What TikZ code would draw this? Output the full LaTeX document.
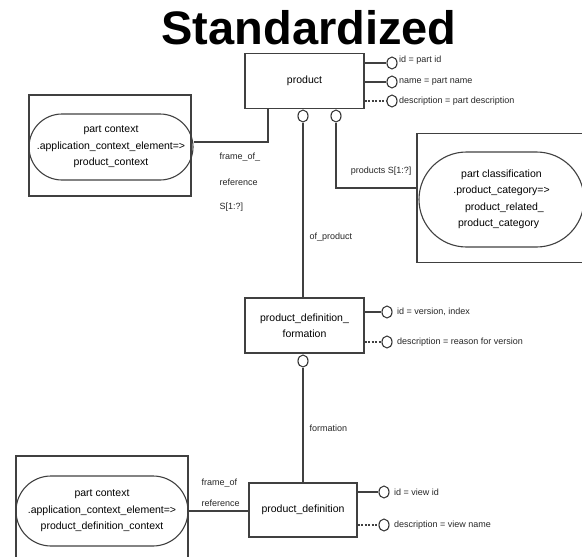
\documentclass[tikz,border=0pt]{standalone}
\usepackage{fontspec}
\setmainfont{Liberation Sans}
\usetikzlibrary{shapes,positioning}
\tikzset{ent/.style={rectangle,draw=black!75,line width=1.1pt,minimum width=119pt,minimum height=55pt,align=center,font=\fontsize{10.5}{16}\selectfont}}
\tikzset{sel/.style={rounded rectangle,draw=black!75,line width=1.1pt,align=center,inner sep=0pt,font=\fontsize{10.5}{16.5}\selectfont}}
\tikzset{frm/.style={rectangle,draw=black!75,line width=1.1pt,inner sep=0pt}}
\tikzset{att/.style={ellipse,draw=black!80,line width=1.1pt,minimum width=10pt,minimum height=12pt,inner sep=0pt}}
\tikzset{lbl/.style={font=\fontsize{9}{10}\selectfont,text=black!85,inner sep=1pt}}

\begin{document}
\begin{tikzpicture}[x=1pt,y=-1pt,line width=1.1pt,draw=black!75]
        \useasboundingbox (0,0) rectangle (582,557);
        \clip (0,0) rectangle (582,557);

        \node[font=\fontsize{47}{50}\bfseries] (title) at (309,28) {Standardized};

        % entities
        \node[ent] (product) at (304.5,81) {product};
        \node[ent] (pdf) at (304.5,325.5) {product\_definition\_\\formation};
        \node[ent,minimum width=108pt,minimum height=54pt] (pd) at (303,510) {product\_definition};

        % select types with frames
        \node[frm,minimum width=162pt,minimum height=101pt] (fr1) at (110,145.5) {};
        \node[sel,minimum width=164pt,minimum height=66pt] (ctx1) at (111,147) {part context\\.application\_context\_element=>\\product\_context};
        \node[frm,minimum width=170pt,minimum height=129pt] (fr2) at (502,198) {};
        \node[sel,minimum width=165pt,minimum height=95pt] (cls) at (501.5,199.5) {part classification\\.product\_category=>\\\ \ product\_related\_\\product\_category\ \ \ };
        \node[frm,minimum width=172pt,minimum height=120pt] (fr3) at (102,516) {};
        \node[sel,minimum width=172pt,minimum height=70pt] (ctx2) at (102,511) {part context\\.application\_context\_element=>\\product\_definition\_context};

        % attributes of product
        \node[att] (a1) at (392,63) {};
        \node[att] (a2) at (392,82) {};
        \node[att] (a3) at (392,101) {};
        \node[lbl,anchor=west,yshift=3pt] at (a1.east) {id = part id};
        \node[lbl,anchor=west] at (a2.east) {name = part name};
        \node[lbl,anchor=west] at (a3.east) {description = part description};
        \draw (product.east |- a1) -- (a1);
        \draw (product.east |- a2) -- (a2);
        \draw[dashed,dash pattern=on 2pt off 1.5pt] (product.east |- a3) -- (a3);

        % attributes of product_definition_formation
        \node[att] (v1) at (387,312) {};
        \node[att] (v2) at (387,342) {};
        \node[lbl,anchor=west,xshift=3pt] at (v1.east) {id = version, index};
        \node[lbl,anchor=west,xshift=3pt] at (v2.east) {description = reason for version};
        \draw (pdf.east |- v1) -- (v1);
        \draw[dashed,dash pattern=on 2pt off 1.5pt] (pdf.east |- v2) -- (v2);

        % attributes of product_definition
        \node[att] (w1) at (384,492) {};
        \node[att] (w2) at (384,525) {};
        \node[lbl,anchor=west,xshift=3pt] at (w1.east) {id = view id};
        \node[lbl,anchor=west,xshift=3pt] at (w2.east) {description = view name};
        \draw (pd.east |- w1) -- (w1);
        \draw[dashed,dash pattern=on 2pt off 1.5pt] (pd.east |- w2) -- (w2);

        % relations
        \node[att] (b1) at (303,116) {};
        \node[att] (b2) at (336,116) {};
        \node[att] (c1) at (303,361) {};
        \coordinate (f1) at (268,142);
        \coordinate (j2) at (336,188);

        \draw (f1 |- product.south) |- (ctx1.east |- f1);
        \draw (b2.south) -- (j2) -- (j2 -| fr2.west);
        \draw (b1.south) -- (b1.south |- pdf.north);
        \draw (c1.south) -- (c1.south |- pd.north);
        \draw (ctx2.east) -- (pd.west |- ctx2.east);

        \node[lbl,anchor=west] at (218,157) {frame\_of\_};
        \node[lbl,anchor=west] at (218,182) {reference};
        \node[lbl,anchor=west] at (218,207) {S[1:?]};
        \node[lbl,anchor=east] at (413,171) {products S[1:?]};
        \node[lbl,anchor=west] at (308,237) {of\_product};
        \node[lbl,anchor=west] at (308,428) {formation};
        \node[lbl,anchor=west] at (200,483) {frame\_of};
        \node[lbl,anchor=west] at (200,503) {reference};
    \end{tikzpicture}
\end{document}
